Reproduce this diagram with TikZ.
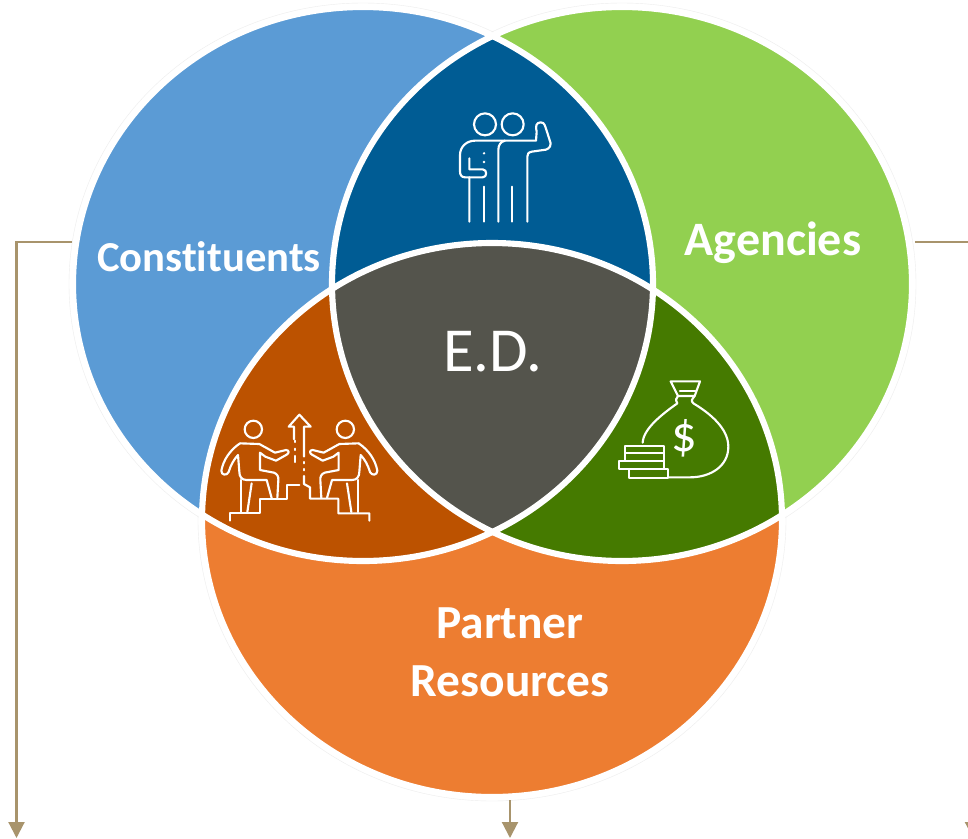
\documentclass[tikz,border=0pt]{standalone}
\usepackage{fontspec}
\setmainfont{Carlito}
\usetikzlibrary{arrows.meta}
\definecolor{cblue}{HTML}{5B9BD5}
\definecolor{cgreen}{HTML}{92D050}
\definecolor{corange}{HTML}{ED7D31}
\definecolor{cdblue}{HTML}{005C94}
\definecolor{cbrown}{HTML}{BC5200}
\definecolor{cdgreen}{HTML}{457A00}
\definecolor{cgrey}{HTML}{54544C}
\definecolor{ctan}{HTML}{A8946C}
\newcommand{\ellB}{(363,284) ellipse [x radius=290,y radius=277]}
\newcommand{\ellG}{(622,284) ellipse [x radius=290,y radius=277]}
\newcommand{\ellO}{(492,520) ellipse [x radius=290,y radius=277]}
\newcommand{\climber}{%
  \draw[icon] (160,88) circle [radius=26];
  \draw[icon] (120,130) .. controls (90,150) and (70,180) .. (64,212) .. controls (64,226) and (80,228) .. (86,216) .. controls (92,195) and (102,178) .. (114,165) -- (118,215) .. controls (118,230) and (125,240) .. (140,240) -- (200,240) -- (215,294);
  \draw[icon] (120,130) -- (178,132) -- (225,158) -- (258,150) .. controls (268,150) and (268,160) .. (260,164) -- (228,182) -- (196,170) -- (180,158) -- (180,210) -- (222,218) .. controls (232,222) and (236,230) .. (235,240) -- (232,294);
  \draw[icon] (122,240) -- (122,336);
  \draw[icon] (155,250) -- (142,336);
}
\tikzset{
  icon/.style={draw=white,line width=1.6pt,line join=round,line cap=round},
  lbl/.style={text=white,font=\bfseries,align=center},
  conn/.style={draw=ctan,line width=1.6pt,-{Triangle[width=12pt,length=12pt]}},
  sep/.style={draw=white,line width=4.6pt},
  halo/.style={draw=black!7,line width=.3pt}
}
\begin{document}
\begin{tikzpicture}[x=0.75pt,y=-0.75pt]
\clip (0,0) rectangle (968,839);
\fill[white] (0,0) rectangle (968,839);
% faint outer rims
\draw[halo] (363,284) ellipse [x radius=294,y radius=281];
\draw[halo] (622,284) ellipse [x radius=294,y radius=281];
\draw[halo] (492,520) ellipse [x radius=294,y radius=281];
% base circles
\fill[cblue] \ellB;
\fill[cgreen] \ellG;
\fill[corange] \ellO;
% overlaps
\begin{scope}\clip \ellB; \fill[cdblue] \ellG; \end{scope}
\begin{scope}\clip \ellB; \fill[cbrown] \ellO; \end{scope}
\begin{scope}\clip \ellG; \fill[cdgreen] \ellO; \end{scope}
\begin{scope}\clip \ellB; \clip \ellG; \fill[cgrey] \ellO; \end{scope}
\draw[sep] \ellB;
\draw[sep] \ellG;
\draw[sep] \ellO;
% labels
\node[lbl,font=\bfseries\fontsize{32pt}{38pt}\selectfont] (constituents) at (209,257) {Const\kern0pt ituents};
\node[lbl,font=\bfseries\fontsize{36pt}{43pt}\selectfont] (agencies) at (773,243) {Agencies};
\node[lbl,font=\bfseries\fontsize{35.6pt}{43.5pt}\selectfont] (partner) at (510,652) {Partner\\Resources};
\node[text=white,font=\fontsize{47pt}{55pt}\selectfont] (ed) at (493,352) {E.D.};
% connectors
\coordinate (lstart) at (72,242);
\coordinate (lend) at (16.5,838);
\coordinate (rstart) at (915,242);
\coordinate (rend) at (973,838);
\coordinate (bstart) at (510,800);
\coordinate (bend) at (510,838);
\draw[conn] (lstart) -| (lend);
\draw[conn] (rstart) -| (rend);
\draw[conn] (bstart) -- (bend);
% icon 1: two people
\begin{scope}[shift={(430,90)},x=.25pt,y=-.25pt]
  \draw[icon] (165,103) circle [radius=33];
  \draw[icon] (248,103) circle [radius=33];
  \draw[icon] (118,395) -- (118,262) -- (105,262) .. controls (95,262) and (90,255) .. (90,245) -- (90,195) .. controls (90,170) and (110,152) .. (135,152) -- (318,152) -- (320,125) .. controls (316,110) and (318,97) .. (332,97) .. controls (345,97) and (345,110) .. (350,122) -- (362,160) .. controls (362,175) and (350,180) .. (340,180) -- (305,185) .. controls (295,187) and (292,192) .. (292,200) -- (292,395);
  \draw[icon] (205,395) -- (205,180) .. controls (205,165) and (212,155) .. (225,152);
  \draw[icon] (162,395) -- (162,290);
  \draw[icon] (247,395) -- (247,290);
  \draw[icon] (118,205) -- (118,238) -- (158,238) .. controls (172,238) and (172,262) .. (158,262) -- (118,262);
  \fill[white] (162,190) circle [radius=4];
  \fill[white] (162,216) circle [radius=4];
\end{scope}
% icon 2: two climbers and stairs
\begin{scope}[shift={(200,400)},x=.25pt,y=-.25pt]
  \climber
  \draw[icon] (90,362) -- (90,340) -- (180,340) -- (180,296) -- (262,296) -- (262,254) -- (298,254);
  \draw[icon] (508,362) -- (508,340) -- (415,340) -- (415,296) -- (330,296) -- (330,262) -- (312,252) -- (312,228);
  \draw[icon] (282,118) -- (282,80) -- (266,80) -- (298,44) -- (332,80) -- (312,80) -- (312,170);
  \draw[icon] (285,122) -- (285,126);
  \draw[icon] (285,146) -- (285,150);
  \draw[icon] (285,168) -- (285,186);
  \draw[icon] (312,186) -- (312,190);
  \draw[icon] (312,207) -- (312,211);
\end{scope}
\begin{scope}[shift={(398.67,400)},x=-.25pt,y=-.25pt]
  \climber
\end{scope}
% icon 3: money bag
\begin{scope}[shift={(600,370)},x=.25pt,y=-.25pt]
  \draw[icon] (212,34) -- (300,34) -- (284,78) -- (234,78) -- cycle;
  \draw[icon] (240,62) -- (286,62);
  \draw[icon] (128,218) .. controls (130,175) and (190,130) .. (232,100) .. controls (226,90) and (228,84) .. (234,78);
  \draw[icon] (284,78) .. controls (276,88) and (272,92) .. (280,100) .. controls (330,130) and (385,175) .. (385,230) .. controls (385,290) and (330,322) .. (270,322) -- (205,322);
  \draw[icon] (76,228) rectangle (192,250);
  \draw[icon] (76,250) rectangle (192,274);
  \draw[icon] (56,274) rectangle (192,298);
  \draw[icon] (86,298) rectangle (205,323);
  \node[text=white,font=\fontsize{38pt}{44pt}\selectfont] (dollar) at (253,205) {\$};
\end{scope}
\end{tikzpicture}
\end{document}
